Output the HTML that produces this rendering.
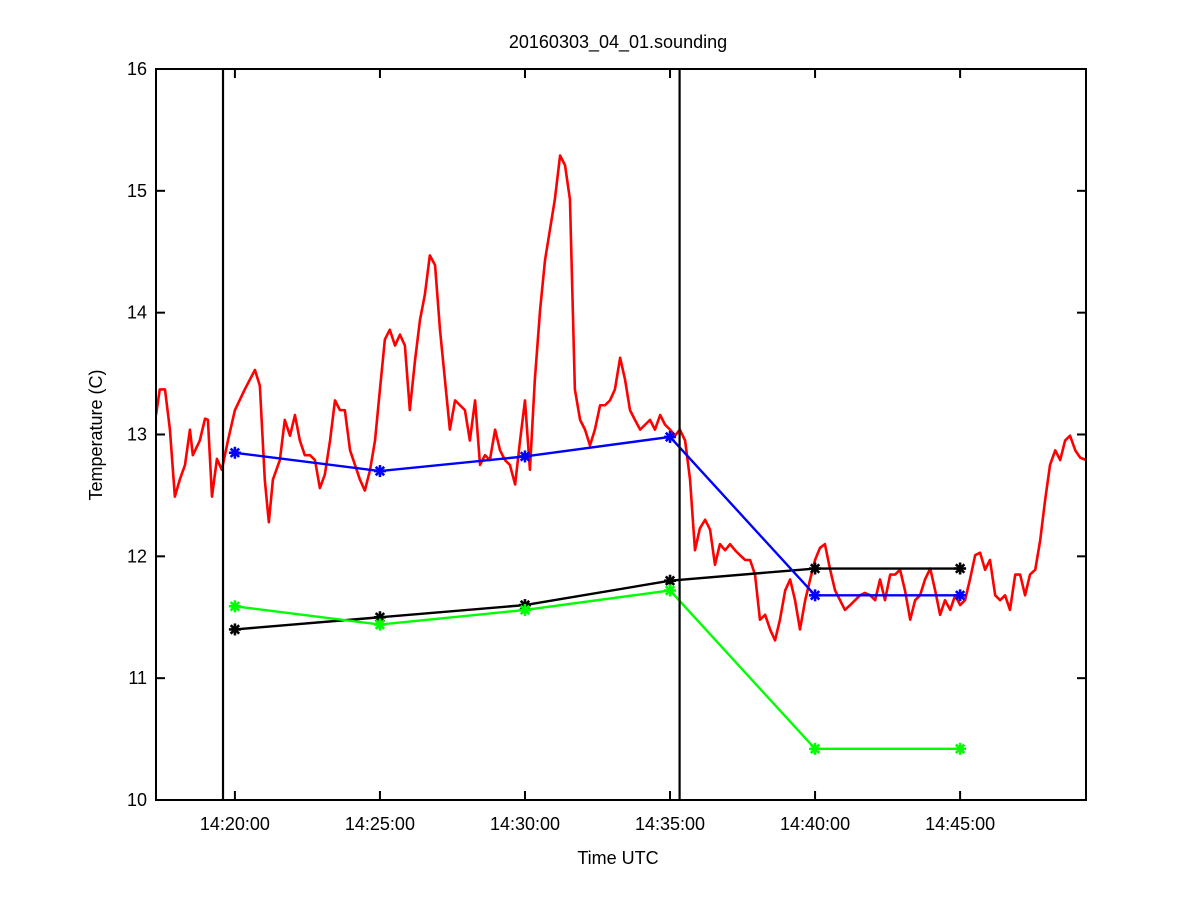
<!DOCTYPE html>
<html><head><meta charset="utf-8"><style>
body{margin:0;background:#fff;}
svg text{font-family:"Liberation Sans",Arial,sans-serif;font-size:18px;fill:#000;}
</style></head><body>
<svg id="chart" width="1200" height="900" xmlns="http://www.w3.org/2000/svg">
<rect width="1200" height="900" fill="#fff"/>
<g id="plot"></g>
</svg>
<script>
const redTimes=[-2.72,-2.59,-2.41,-2.24,-2.07,-1.90,-1.72,-1.55,-1.45,-1.21,-1.03,-0.93,-0.79,-0.62,-0.45,-0.24,0,0.34,0.69,0.86,1.03,1.17,1.31,1.55,1.72,1.90,2.07,2.24,2.41,2.59,2.76,2.93,3.10,3.28,3.45,3.62,3.79,3.97,4.14,4.31,4.48,4.66,4.83,5.00,5.17,5.34,5.52,5.69,5.86,6.03,6.21,6.38,6.55,6.72,6.90,7.07,7.24,7.41,7.59,7.76,7.93,8.10,8.28,8.45,8.62,8.79,8.97,9.14,9.31,9.48,9.66,9.83,10.00,10.17,10.34,10.52,10.69,10.86,11.03,11.21,11.38,11.55,11.72,11.90,12.07,12.24,12.41,12.59,12.76,12.93,13.10,13.28,13.45,13.62,13.79,13.97,14.14,14.31,14.48,14.66,14.83,15.00,15.17,15.34,15.52,15.69,15.86,16.03,16.21,16.38,16.55,16.72,16.90,17.07,17.24,17.41,17.59,17.76,17.93,18.10,18.28,18.45,18.62,18.79,18.97,19.14,19.31,19.48,19.66,19.83,20.00,20.17,20.34,20.52,20.69,20.86,21.03,21.21,21.38,21.55,21.72,21.90,22.07,22.24,22.41,22.59,22.76,22.93,23.10,23.28,23.45,23.62,23.79,23.97,24.14,24.31,24.48,24.66,24.83,25.00,25.17,25.34,25.52,25.69,25.86,26.03,26.21,26.38,26.55,26.72,26.90,27.07,27.24,27.41,27.59,27.76,27.93,28.10,28.28,28.45,28.62,28.79,28.97,29.14,29.34];
const redTemps=[13.16,13.37,13.37,13.04,12.49,12.63,12.75,13.04,12.83,12.95,13.13,13.12,12.49,12.8,12.71,12.95,13.2,13.37,13.53,13.4,12.63,12.28,12.63,12.79,13.12,12.99,13.16,12.95,12.83,12.83,12.79,12.56,12.67,12.95,13.28,13.2,13.2,12.87,12.75,12.63,12.54,12.71,12.95,13.37,13.78,13.86,13.73,13.82,13.73,13.2,13.61,13.94,14.15,14.47,14.39,13.86,13.45,13.04,13.28,13.24,13.2,12.95,13.28,12.75,12.83,12.79,13.04,12.87,12.79,12.75,12.59,12.95,13.28,12.71,13.45,14.02,14.43,14.68,14.93,15.29,15.21,14.93,13.37,13.12,13.04,12.91,13.04,13.24,13.24,13.28,13.37,13.63,13.45,13.2,13.12,13.04,13.08,13.12,13.04,13.16,13.08,13.04,12.99,13.04,12.95,12.63,12.05,12.23,12.3,12.22,11.93,12.1,12.05,12.1,12.05,12.01,11.97,11.97,11.85,11.48,11.52,11.4,11.31,11.48,11.72,11.81,11.64,11.4,11.64,11.81,11.97,12.07,12.1,11.89,11.72,11.64,11.56,11.6,11.64,11.68,11.7,11.68,11.64,11.81,11.64,11.85,11.85,11.89,11.72,11.48,11.64,11.68,11.81,11.9,11.72,11.52,11.64,11.56,11.68,11.6,11.64,11.81,12.01,12.03,11.89,11.97,11.68,11.64,11.68,11.56,11.85,11.85,11.68,11.85,11.89,12.13,12.46,12.75,12.87,12.79,12.95,12.99,12.87,12.81,12.79];
const markerTimes=[0,5,10,15,20,25];
const blueTemps=[12.85,12.70,12.82,12.98,11.68,11.68];
const blackTemps=[11.40,11.50,11.60,11.80,11.90,11.90];
const greenTemps=[11.59,11.44,11.56,11.72,10.42,10.42];
const xTickLabels=["14:20:00","14:25:00","14:30:00","14:35:00","14:40:00","14:45:00"];
const xTickTimes=[0,5,10,15,20,25];
const yTicks=[10,11,12,13,14,15,16];
const vlineTimes=[-0.41,15.33];

const L=156,R=1086,T=69,B=800,tMin=-2.72,tMax=29.34;
const X=t=>L+(t-tMin)/(tMax-tMin)*(R-L);
const Y=v=>B-(v-10)/6*(B-T);
const NS="http://www.w3.org/2000/svg";
const g=document.getElementById('plot');
function mk(tag,attrs,parent){const e=document.createElementNS(NS,tag);for(const k in attrs)e.setAttribute(k,attrs[k]);(parent||g).appendChild(e);return e;}

const defs=mk('defs',{});const cp=mk('clipPath',{id:'clip'},defs);mk('rect',{x:L,y:T,width:R-L,height:B-T},cp);

const red=mk('polyline',{points:redTimes.map((t,i)=>X(t)+','+Y(redTemps[i])).join(' '),fill:'none',stroke:'#ff0000','stroke-width':2.6,'stroke-linejoin':'round','clip-path':'url(#clip)'});



function series(vals,color,name){
  const pl=mk('polyline',{points:markerTimes.map((t,i)=>X(t)+','+Y(vals[i])).join(' '),fill:'none',stroke:color,'stroke-width':2.4});
  
  
  markerTimes.forEach((t,i)=>{
    const cx=X(t),cy=Y(vals[i]),r=6;
    const m=mk('g',{stroke:color,'stroke-width':2.6});
    
    
    for(let a=0;a<4;a++){const an=a*Math.PI/4;mk('line',{x1:cx-r*Math.cos(an),y1:cy-r*Math.sin(an),x2:cx+r*Math.cos(an),y2:cy+r*Math.sin(an)},m);}
  });
}
series(blackTemps,'#000000','black-series');
series(greenTemps,'#00ff00','green-series');
series(blueTemps,'#0000ff','blue-series');

vlineTimes.forEach(t=>{const v=mk('line',{x1:X(t),x2:X(t),y1:T,y2:B,stroke:'#000','stroke-width':2.2});

});

const box=mk('rect',{x:L,y:T,width:R-L,height:B-T,fill:'none',stroke:'#000','stroke-width':2});



xTickTimes.forEach((t,i)=>{const x=X(t);
  mk('line',{x1:x,x2:x,y1:B,y2:B-9,stroke:'#000','stroke-width':2});
  mk('line',{x1:x,x2:x,y1:T,y2:T+9,stroke:'#000','stroke-width':2});
  const tx=mk('text',{x:x,y:B+30,'text-anchor':'middle'});tx.textContent=xTickLabels[i];
  
  
});
yTicks.forEach(v=>{const y=Y(v);
  mk('line',{x1:L,x2:L+9,y1:y,y2:y,stroke:'#000','stroke-width':2});
  mk('line',{x1:R,x2:R-9,y1:y,y2:y,stroke:'#000','stroke-width':2});
  const tx=mk('text',{x:147,y:y+6,'text-anchor':'end'});tx.textContent=v;
  
  
});
let t1=mk('text',{x:618,y:48,'text-anchor':'middle'});t1.textContent='20160303_04_01.sounding';


let t2=mk('text',{x:618,y:864,'text-anchor':'middle'});t2.textContent='Time UTC';


let t3=mk('text',{x:102,y:435,'text-anchor':'middle',transform:'rotate(-90 102 435)'});t3.textContent='Temperature (C)';


</script>
</body></html>
